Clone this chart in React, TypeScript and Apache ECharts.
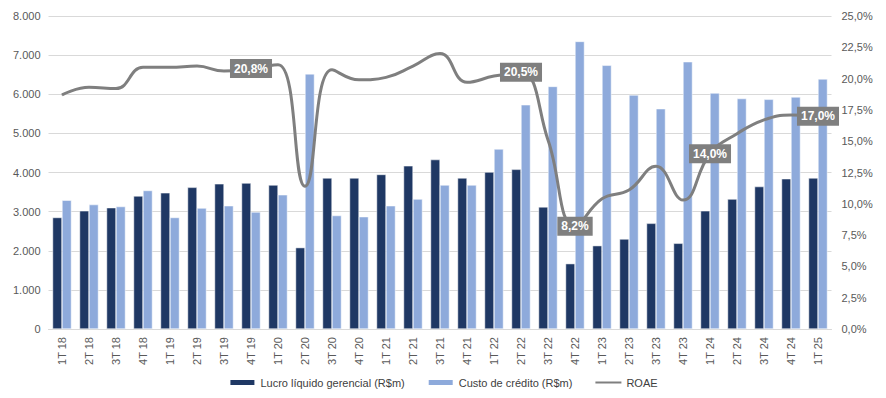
import React, { useEffect, useRef } from "react";
import * as echarts from "echarts";

const categories = [
  "1T 18", "2T 18", "3T 18", "4T 18", "1T 19", "2T 19", "3T 19", "4T 19",
  "1T 20", "2T 20", "3T 20", "4T 20", "1T 21", "2T 21", "3T 21", "4T 21",
  "1T 22", "2T 22", "3T 22", "4T 22", "1T 23", "2T 23", "3T 23", "4T 23",
  "1T 24", "2T 24", "3T 24", "4T 24", "1T 25",
];

const lucro = [
  2850, 3020, 3100, 3400, 3480, 3620, 3710, 3730,
  3680, 2080, 3860, 3860, 3950, 4170, 4330, 3860,
  4010, 4080, 3120, 1670, 2130, 2300, 2700, 2190,
  3020, 3320, 3640, 3840, 3860,
];

const custo = [
  3290, 3180, 3130, 3540, 2850, 3090, 3150, 2990,
  3430, 6520, 2900, 2870, 3150, 3320, 3680, 3680,
  4600, 5730, 6200, 7350, 6740, 5980, 5630, 6830,
  6030, 5890, 5870, 5930, 6390,
];

const roae = [
  18.7, 19.3, 19.2, 20.9, 20.9, 21.0, 20.6, 20.8,
  21.1, 11.4, 20.7, 19.9, 20.1, 21.0, 22.0, 19.7,
  20.2, 20.5, 15.1, 8.2, 10.4, 11.1, 13.0, 10.3,
  14.0, 15.6, 16.7, 17.1, 17.0,
];

const labeledPoints = ["4T 19", "2T 22", "4T 22", "1T 24", "1T 25"];

const seriesNames = ["Lucro líquido gerencial (R$m)", "Custo de crédito (R$m)", "ROAE"];

const FONT = "Liberation Sans";

export default function App() {
  const ref = useRef<HTMLDivElement>(null);
  useEffect(() => {
    if (!ref.current) return;
    const chart = echarts.init(ref.current, null, { renderer: "svg" });
    const fmtThousands = (v: number) =>
      String(Math.round(v)).replace(/\B(?=(\d{3})+(?!\d))/g, ".");
    chart.setOption({
      animation: false,
      textStyle: { fontFamily: FONT },
      grid: { left: 48.5, right: 54.5, top: 16, bottom: 69, containLabel: false },
      legend: {
        top: 372,
        left: "center",
        itemWidth: 26,
        itemHeight: 7,
        itemGap: 22,
        textStyle: { fontFamily: FONT, fontSize: 11, color: "#404040" },
        data: [
          { name: seriesNames[0], icon: "rect" },
          { name: seriesNames[1], icon: "rect" },
          { name: seriesNames[2], itemStyle: { opacity: 0 } },
        ],
      },
      xAxis: {
        type: "category",
        data: categories,
        axisTick: { show: false },
        axisLine: { lineStyle: { color: "#d9d9d9", width: 1 } },
        axisLabel: {
          rotate: 90,
          interval: 0,
          margin: 8,
          fontSize: 11,
          color: "#595959",
          fontFamily: FONT,
        },
      },
      yAxis: [
        {
          type: "value",
          min: 0,
          max: 8000,
          interval: 1000,
          axisLine: { show: false },
          axisTick: { show: false },
          splitLine: { lineStyle: { color: "#d9d9d9", width: 1 } },
          axisLabel: {
            margin: 8,
            fontSize: 11,
            color: "#595959",
            fontFamily: FONT,
            formatter: (v: number) => fmtThousands(v),
          },
        },
        {
          type: "value",
          min: 0,
          max: 25,
          interval: 2.5,
          position: "right",
          axisLine: { show: false },
          axisTick: { show: false },
          splitLine: { show: false },
          axisLabel: {
            margin: 10,
            fontSize: 11,
            color: "#595959",
            fontFamily: FONT,
            formatter: (v: number) => v.toFixed(1).replace(".", ",") + "%",
          },
        },
      ],
      series: [
        {
          name: seriesNames[0],
          type: "bar",
          data: lucro,
          barGap: "0%",
          barCategoryGap: "30%",
          itemStyle: { color: "#1f3864", borderColor: "#ffffff", borderWidth: 0.5 },
        },
        {
          name: seriesNames[1],
          type: "bar",
          data: custo,
          barGap: "0%",
          barCategoryGap: "30%",
          itemStyle: { color: "#8eaadb", borderColor: "#ffffff", borderWidth: 0.5 },
        },
        {
          name: seriesNames[2],
          type: "line",
          yAxisIndex: 1,
          smooth: 0.45,
          symbol: "circle",
          symbolSize: 1,
          showSymbol: true,
          lineStyle: { color: "#7f7f7f", width: 3 },
          itemStyle: { color: "#7f7f7f" },
          data: roae.map((v, i) => ({
            value: v,
            label: { show: labeledPoints.includes(categories[i]) },
          })),
          label: {
            show: false,
            position: "inside",
            formatter: (p: any) => p.value.toFixed(1).replace(".", ",") + "%",
            color: "#ffffff",
            fontWeight: "bold",
            fontSize: 12,
            fontFamily: FONT,
            backgroundColor: "#7f7f7f",
            padding: [4, 4, 3, 4],
          },
        },
      ],
    });
    return () => chart.dispose();
  }, []);
  return (
    <div
      ref={ref}
      style={{ position: "absolute", left: 0, top: 0, width: 886, height: 398 }}
    />
  );
}
